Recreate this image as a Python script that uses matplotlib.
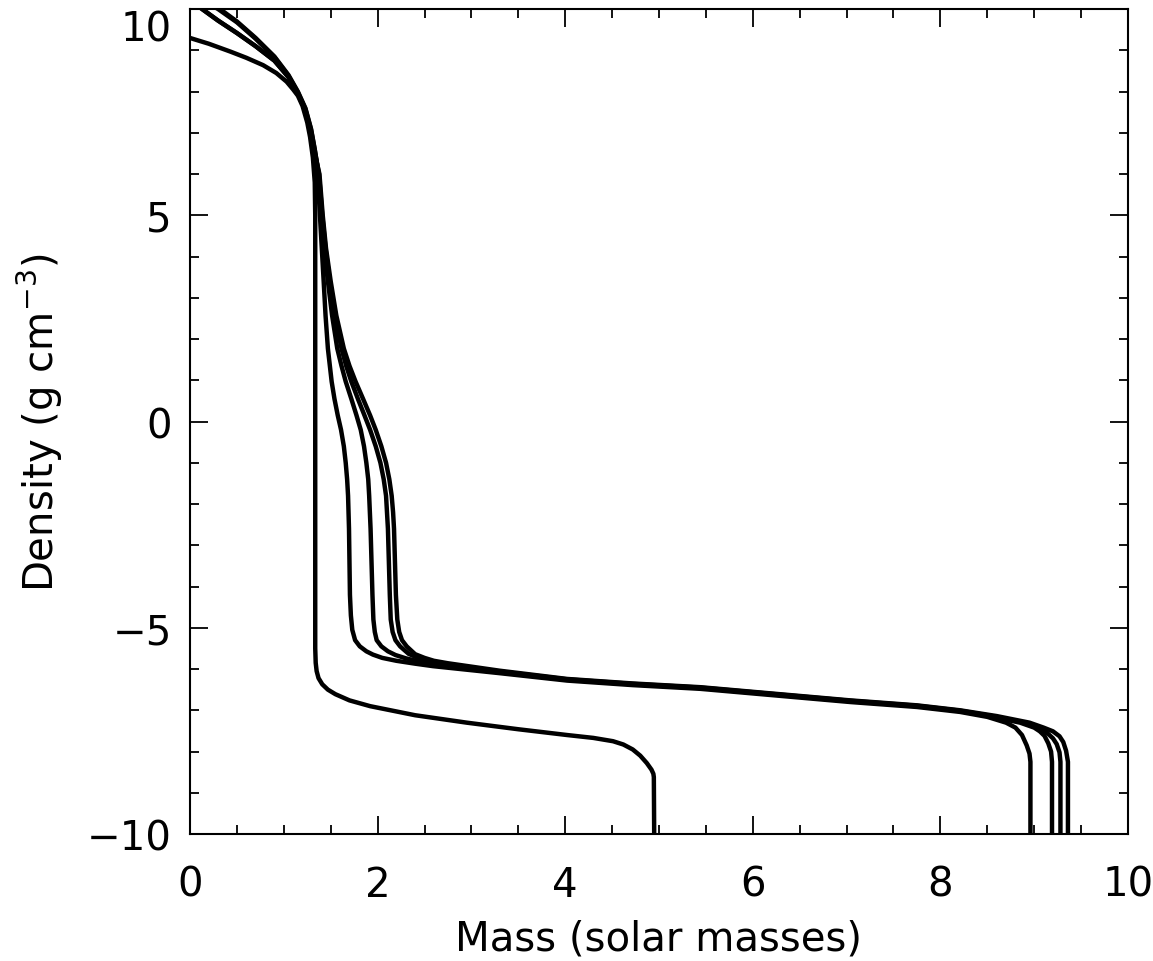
"""Density profiles vs enclosed mass for five stellar models."""

import matplotlib
matplotlib.use("Agg")
import matplotlib.pyplot as plt
from matplotlib.ticker import MultipleLocator

# Stripped model: compact core at ~1.33 Msun, envelope to ~4.94 Msun
mass_e = [0.00, 0.20, 0.43, 0.60, 0.78, 0.92, 1.03, 1.10, 1.15, 1.20, 1.25, 1.28,
          1.31, 1.33, 1.335, 1.335, 1.34, 1.35, 1.37, 1.41, 1.47, 1.55, 1.70, 1.92,
          2.40, 2.95, 3.50, 4.02, 4.30, 4.51, 4.62, 4.72, 4.80, 4.87, 4.92, 4.94,
          4.945, 4.95]
dens_e = [9.30, 9.16, 8.97, 8.82, 8.64, 8.45, 8.24, 8.05, 7.90, 7.65, 7.25, 6.90,
          6.40, 5.80, 5.00, -5.50, -5.85, -6.05, -6.22, -6.37, -6.50, -6.61, -6.76,
          -6.90, -7.12, -7.30, -7.46, -7.60, -7.67, -7.75, -7.83, -7.95, -8.10, -8.28,
          -8.44, -8.54, -8.62, -10.5]

mass_a = [0.00, 0.13, 0.30, 0.50, 0.70, 0.90, 1.05, 1.15, 1.22, 1.28, 1.32, 1.36,
          1.385, 1.405, 1.425, 1.445, 1.47, 1.51, 1.54, 1.575, 1.61, 1.64, 1.66,
          1.675, 1.685, 1.695, 1.70, 1.705, 1.715, 1.73, 1.76, 1.81, 1.88, 1.95,
          2.05, 2.20, 2.40, 2.59, 3.30, 4.02, 4.72, 5.44, 7.04, 7.75, 8.21, 8.50,
          8.70, 8.80, 8.87, 8.92, 8.95, 8.96, 8.96]
dens_a = [10.20, 10.00, 9.72, 9.42, 9.10, 8.75, 8.35, 7.95, 7.60, 7.10, 6.60, 6.00,
          5.00, 4.20, 3.40, 2.57, 1.77, 0.97, 0.55, 0.15, -0.20, -0.60, -1.00, -1.40,
          -1.80, -2.60, -3.40, -4.20, -4.70, -5.05, -5.30, -5.45, -5.57, -5.65, -5.73,
          -5.80, -5.87, -5.93, -6.10, -6.28, -6.39, -6.48, -6.80, -6.92, -7.04, -7.16,
          -7.30, -7.42, -7.60, -7.85, -8.05, -8.25, -10.5]

mass_b = [0.00, 0.32, 0.50, 0.70, 0.90, 1.05, 1.15, 1.23, 1.29, 1.33, 1.37, 1.40,
          1.43, 1.47, 1.515, 1.57, 1.615, 1.66, 1.72, 1.775, 1.82, 1.855, 1.88,
          1.90, 1.91, 1.925, 1.935, 1.945, 1.955, 1.97, 1.99, 2.04, 2.11, 2.19,
          2.30, 2.45, 2.60, 3.30, 4.02, 4.72, 5.44, 7.04, 7.75, 8.21, 8.60, 8.85,
          9.00, 9.06, 9.11, 9.15, 9.18, 9.19, 9.19]
dens_b = [10.45, 10.00, 9.70, 9.30, 8.85, 8.40, 8.00, 7.60, 7.10, 6.60, 6.00, 5.00,
          4.20, 3.40, 2.57, 1.77, 1.35, 0.97, 0.55, 0.15, -0.20, -0.60, -1.00, -1.40,
          -1.80, -2.60, -3.40, -4.20, -4.80, -5.10, -5.30, -5.45, -5.57, -5.66, -5.74,
          -5.82, -5.90, -6.08, -6.26, -6.37, -6.46, -6.78, -6.90, -7.02, -7.18, -7.30,
          -7.42, -7.51, -7.62, -7.80, -8.00, -8.25, -10.5]

mass_c = [0.00, 0.30, 0.50, 0.70, 0.90, 1.05, 1.15, 1.23, 1.29, 1.33, 1.375, 1.41,
          1.445, 1.49, 1.545, 1.615, 1.665, 1.72, 1.79, 1.86, 1.92, 1.98, 2.03,
          2.065, 2.09, 2.10, 2.11, 2.12, 2.13, 2.14, 2.16, 2.19, 2.24, 2.33, 2.42,
          2.52, 2.65, 3.30, 4.02, 4.72, 5.44, 7.04, 7.75, 8.21, 8.60, 8.90, 9.05,
          9.13, 9.20, 9.24, 9.27, 9.28, 9.28]
dens_c = [10.40, 10.00, 9.68, 9.28, 8.83, 8.38, 7.98, 7.58, 7.08, 6.58, 6.00, 5.00,
          4.20, 3.40, 2.57, 1.77, 1.35, 0.97, 0.55, 0.15, -0.20, -0.60, -1.00, -1.40,
          -1.80, -2.20, -2.60, -3.40, -4.20, -4.80, -5.10, -5.30, -5.45, -5.63, -5.72,
          -5.79, -5.86, -6.06, -6.25, -6.36, -6.45, -6.77, -6.89, -7.01, -7.16, -7.30,
          -7.42, -7.53, -7.68, -7.82, -8.02, -8.25, -10.5]

mass_d = [0.00, 0.13, 0.30, 0.50, 0.70, 0.90, 1.05, 1.15, 1.22, 1.28, 1.32, 1.38,
          1.415, 1.45, 1.50, 1.56, 1.64, 1.70, 1.765, 1.845, 1.92, 1.98, 2.04, 2.09,
          2.125, 2.15, 2.165, 2.175, 2.185, 2.195, 2.21, 2.23, 2.26, 2.31, 2.40,
          2.50, 2.60, 2.75, 3.30, 4.02, 4.72, 5.44, 7.04, 7.75, 8.21, 8.60, 8.95,
          9.10, 9.20, 9.27, 9.31, 9.34, 9.36, 9.36]
dens_d = [10.25, 10.00, 9.72, 9.42, 9.10, 8.75, 8.35, 7.95, 7.60, 7.10, 6.60, 6.00,
          5.00, 4.20, 3.40, 2.57, 1.77, 1.35, 0.97, 0.55, 0.15, -0.20, -0.60, -1.00,
          -1.40, -1.80, -2.20, -2.60, -3.40, -4.20, -4.80, -5.10, -5.30, -5.45, -5.64,
          -5.73, -5.80, -5.86, -6.04, -6.24, -6.35, -6.44, -6.76, -6.88, -7.00, -7.14,
          -7.30, -7.42, -7.51, -7.63, -7.77, -7.98, -8.25, -10.5]

x_ticks = [0, 2, 4, 6, 8, 10]
y_ticks = [-10, -5, 0, 5, 10]


def main():
    plt.rcParams["font.family"] = ["DejaVu Sans"]
    plt.rcParams["axes.unicode_minus"] = True

    fig = plt.figure(figsize=(11.53, 9.62), dpi=100)
    ax = fig.add_axes([0.1648, 0.132, 0.8135, 0.8575])

    for m, d in [(mass_e, dens_e), (mass_a, dens_a), (mass_b, dens_b),
                 (mass_c, dens_c), (mass_d, dens_d)]:
        ax.plot(m, d, color="black", lw=3.2, solid_joinstyle="round")

    ax.set_xlim(0, 10)
    ax.set_ylim(-10, 10)
    ax.set_xticks(x_ticks)
    ax.set_yticks(y_ticks)
    ax.xaxis.set_minor_locator(MultipleLocator(0.5))
    ax.yaxis.set_minor_locator(MultipleLocator(1))
    ax.tick_params(which="both", direction="in", top=True, right=True, width=1.3)
    ax.tick_params(which="major", length=13)
    ax.tick_params(which="minor", length=6.5)
    ax.tick_params(axis="x", which="major", pad=22, labelsize=29)
    ax.tick_params(axis="y", which="major", pad=13, labelsize=29)
    for s in ax.spines.values():
        s.set_linewidth(1.5)
    # top y label sits just below the frame edge, as in the original
    ax.yaxis.get_major_ticks()[-1].label1.set_verticalalignment("top")

    ax.set_xlabel("Mass (solar masses)", fontsize=29, labelpad=10)
    ax.set_ylabel("Density (g cm$^{-3}$)", fontsize=29, labelpad=16)

    fig.savefig("out.png", dpi=100)
    plt.close(fig)


if __name__ == "__main__":
    main()
